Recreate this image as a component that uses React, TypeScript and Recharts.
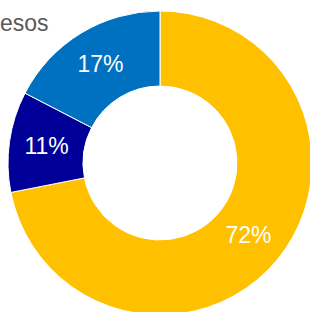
import React from "react";
import { PieChart, Pie, Cell } from "recharts";

const categories = ["A", "B", "C"];
const values = [71.9, 10.7, 17.4];
const colors = ["#FFC000", "#000099", "#0070C0"];
const titleText = "esos";

const data = categories.map((c, i) => ({ name: c, value: values[i] }));

const RADIAN = Math.PI / 180;

const renderLabel = (props: any) => {
  const { cx, cy, midAngle, innerRadius, outerRadius, value } = props;
  const r = (innerRadius + outerRadius) / 2;
  const x = cx + r * Math.cos(-midAngle * RADIAN);
  const y = cy + r * Math.sin(-midAngle * RADIAN) - 1;
  return (
    <text
      x={x}
      y={y}
      fill="#ffffff"
      textAnchor="middle"
      dominantBaseline="central"
      fontSize={23}
      fontFamily="'Liberation Sans', Arial, sans-serif"
    >
      {`${Math.round(value)}%`}
    </text>
  );
};

export default function App() {
  return (
    <div style={{ position: "absolute", left: 0, top: 0, width: 310, height: 312, background: "#fff", overflow: "hidden" }}>
      <PieChart width={330} height={330} margin={{ top: 0, right: 0, bottom: 0, left: 0 }}>
        <Pie
          data={data}
          dataKey="value"
          nameKey="name"
          cx={160}
          cy={163}
          innerRadius={77}
          outerRadius={152}
          startAngle={90}
          endAngle={-270}
          stroke="#ffffff"
          strokeWidth={1}
          label={renderLabel}
          labelLine={false}
          isAnimationActive={false}
        >
          {data.map((d, i) => (
            <Cell key={d.name} fill={colors[i]} />
          ))}
        </Pie>
      </PieChart>
      <svg width={310} height={40} style={{ position: "absolute", left: 0, top: 0 }}>
        <text x={0} y={31} fontSize={23} fill="#595959" fontFamily="'Liberation Sans', Arial, sans-serif">
          {titleText}
        </text>
      </svg>
    </div>
  );
}
